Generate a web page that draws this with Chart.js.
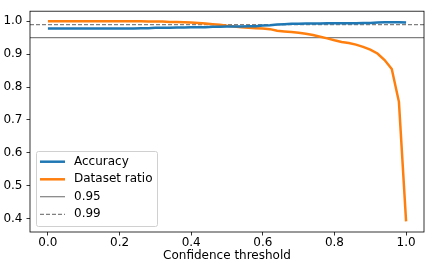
<!DOCTYPE html>
<html>
<head>
  <title>Confidence threshold</title>
  <script src="https://cdn.jsdelivr.net/npm/chart.js@4.4.0/dist/chart.umd.min.js"></script>
  <style>
    body { margin: 0; background: #fff; }
  </style>
</head>
<body>
<canvas id="myChart" width="432" height="270"></canvas>
<script>
const thresholds = [0.00, 0.02, 0.04, 0.06, 0.08, 0.10, 0.12, 0.14, 0.16, 0.18,
                    0.20, 0.22, 0.24, 0.26, 0.28, 0.30, 0.32, 0.34, 0.36, 0.38,
                    0.40, 0.42, 0.44, 0.46, 0.48, 0.50, 0.52, 0.54, 0.56, 0.58,
                    0.60, 0.62, 0.64, 0.66, 0.68, 0.70, 0.72, 0.74, 0.76, 0.78,
                    0.80, 0.82, 0.84, 0.86, 0.88, 0.90, 0.92, 0.94, 0.96, 0.98, 1.00];
const accuracy = [0.978, 0.978, 0.978, 0.978, 0.978, 0.978, 0.978, 0.978, 0.978, 0.978,
                  0.978, 0.978, 0.978, 0.979, 0.979, 0.980, 0.980, 0.980, 0.981, 0.981,
                  0.982, 0.982, 0.982, 0.983, 0.983, 0.984, 0.984, 0.984, 0.985, 0.985,
                  0.987, 0.988, 0.990, 0.991, 0.992, 0.992, 0.993, 0.993, 0.993, 0.994,
                  0.994, 0.994, 0.994, 0.994, 0.995, 0.995, 0.996, 0.997, 0.997, 0.997, 0.996];
const datasetRatio = [1.000, 1.000, 1.000, 1.000, 1.000, 1.000, 1.000, 1.000, 1.000, 1.000,
                      1.000, 1.000, 1.000, 1.000, 0.9995, 0.999, 0.999, 0.998, 0.998, 0.997,
                      0.996, 0.995, 0.993, 0.991, 0.989, 0.986, 0.984, 0.982, 0.980, 0.979,
                      0.978, 0.976, 0.971, 0.969, 0.967, 0.965, 0.962, 0.958, 0.953, 0.948,
                      0.942, 0.937, 0.934, 0.929, 0.922, 0.914, 0.902, 0.882, 0.855, 0.755, 0.392];
const refLines = [0.95, 0.99];
const xTicks = [0.0, 0.2, 0.4, 0.6, 0.8, 1.0];
const yTicks = [0.4, 0.5, 0.6, 0.7, 0.8, 0.9, 1.0];
const xRange = [-0.05, 1.05];

const FONT = 'DejaVu Sans';

function toPoints(ys) {
  return thresholds.map((x, i) => ({x: x, y: ys[i]}));
}

// frame on all four sides like matplotlib spines
const framePlugin = {
  id: 'frame',
  afterDatasetsDraw(chart) {
    const a = chart.chartArea, c = chart.ctx;
    c.save();
    c.strokeStyle = '#000';
    c.lineWidth = 0.8;
    c.strokeRect(a.left, a.top, a.right - a.left, a.bottom - a.top);
    c.restore();
  }
};

// legend box inside the plot, lower left
const boxLegend = {
  id: 'boxLegend',
  afterDraw(chart) {
    const c = chart.ctx, a = chart.chartArea;
    const x0 = a.left + 6, y0 = 151, w = 121, h = 75;
    c.save();
    c.fillStyle = 'rgba(255,255,255,0.8)';
    c.strokeStyle = '#d0d0d0';
    c.lineWidth = 1;
    c.beginPath();
    c.roundRect(x0 + 0.5, y0 + 0.5, w, h, 2);
    c.fill();
    c.stroke();
    const rowsY = [161.7, 179.3, 196.7, 214.3];
    chart.data.datasets.forEach((ds, i) => {
      const y = rowsY[i];
      c.strokeStyle = ds.borderColor;
      c.lineWidth = ds.borderWidth;
      c.setLineDash(ds.borderDash || []);
      c.beginPath();
      c.moveTo(x0 + 4, y);
      c.lineTo(x0 + 29, y);
      c.stroke();
      c.setLineDash([]);
      c.fillStyle = '#000';
      c.font = '12px "' + FONT + '"';
      c.textBaseline = 'middle';
      c.fillText(ds.label, x0 + 38, y);
    });
    c.restore();
  }
};

const ctx = document.getElementById('myChart').getContext('2d');
const myChart = new Chart(ctx, {
  type: 'line',
  data: {
    datasets: [
      {
        label: 'Accuracy',
        data: toPoints(accuracy),
        borderColor: '#1f77b4',
        borderWidth: 2.5,
        pointRadius: 0,
        tension: 0
      },
      {
        label: 'Dataset ratio',
        data: toPoints(datasetRatio),
        borderColor: '#ff7f0e',
        borderWidth: 2.5,
        pointRadius: 0,
        tension: 0
      },
      {
        label: '0.95',
        data: xRange.map(x => ({x: x, y: refLines[0]})),
        borderColor: '#808080',
        borderWidth: 1.2,
        pointRadius: 0
      },
      {
        label: '0.99',
        data: xRange.map(x => ({x: x, y: refLines[1]})),
        borderColor: '#808080',
        borderWidth: 1.2,
        borderDash: [4, 2],
        pointRadius: 0
      }
    ]
  },
  options: {
    responsive: false,
    animation: false,
    devicePixelRatio: 1,
    layout: { padding: { top: 8, right: 8, left: 0, bottom: 7 } },
    plugins: {
      legend: { display: false },
      tooltip: { enabled: false }
    },
    scales: {
      x: {
        type: 'linear',
        min: xRange[0],
        max: xRange[1],
        afterBuildTicks: s => { s.ticks = xTicks.map(v => ({value: v})); },
        afterFit: s => { s.height = 31; },
        grid: { drawOnChartArea: false, drawTicks: true, tickLength: 3.5, color: '#000', lineWidth: 0.8 },
        border: { display: false },
        ticks: {
          color: '#000',
          padding: 0,
          maxRotation: 0,
          font: { family: FONT, size: 12 },
          callback: v => v.toFixed(1)
        },
        title: {
          display: true,
          text: 'Confidence threshold',
          color: '#000',
          padding: { top: 0, bottom: 0 },
          font: { family: FONT, size: 12 }
        }
      },
      y: {
        min: 0.3595,
        max: 1.0305,
        afterBuildTicks: s => { s.ticks = yTicks.map(v => ({value: v})); },
        afterFit: s => { s.width = 30; },
        grid: { drawOnChartArea: false, drawTicks: true, tickLength: 3.5, color: '#000', lineWidth: 0.8 },
        border: { display: false },
        ticks: {
          color: '#000',
          padding: 4,
          font: { family: FONT, size: 12 },
          callback: v => v.toFixed(1)
        }
      }
    }
  },
  plugins: [framePlugin, boxLegend]
});
</script>
</body>
</html>
